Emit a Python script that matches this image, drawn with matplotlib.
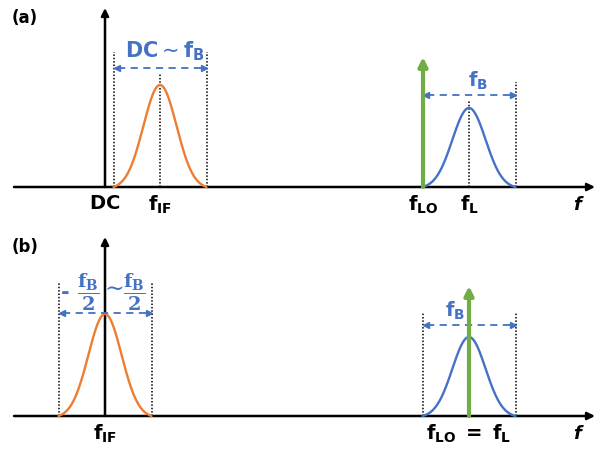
import numpy as np
import matplotlib.pyplot as plt

# frequencies (arbitrary units, DC = 0) and amplitudes
f_if_a = 55
f_if_b = 0
f_lo_a = 318
f_lo_b = 364
f_l = 364
bw = 93
amp_if = 102
amp_l = 79
amp_lo = 130

orange = '#ED7D31'
blue = '#4472C4'
green = '#70AD47'

fig = plt.figure(figsize=(6.05, 4.5), dpi=100)


def peak(ax, fc, amp, color):
    x = np.linspace(fc - bw / 2, fc + bw / 2, 200)
    s = bw / 5.6
    y = amp * (np.exp(-(x - fc) ** 2 / (2 * s ** 2)) - np.exp(-(bw / 2) ** 2 / (2 * s ** 2)))
    y = y / y.max() * amp
    ax.plot(x, y, color=color, lw=1.7, solid_capstyle='round', zorder=3)


def axes_lines(ax):
    ax.annotate('', xy=(490, 0), xytext=(-91, 0),
                arrowprops=dict(arrowstyle='-|>', lw=1.8, color='black',
                                mutation_scale=11, shrinkA=0, shrinkB=0))
    ax.annotate('', xy=(0, 179), xytext=(0, 0),
                arrowprops=dict(arrowstyle='-|>', lw=1.8, color='black',
                                mutation_scale=11, shrinkA=0, shrinkB=0))
    ax.text(472, -9, 'f', fontsize=13, fontweight='bold', fontstyle='italic',
            ha='center', va='top')


def dotted(ax, x, top):
    ax.plot([x, x], [0, top], color='black', ls=(0, (1, 1.2)), lw=1.1, zorder=2)


def span(ax, x0, x1, y):
    ax.plot([x0 + 4, x1 - 4], [y, y], color=blue, ls=(0, (4, 3)), lw=1.3, zorder=4)
    ax.plot([x0 + 3], [y], marker='<', color=blue, ms=4, zorder=4)
    ax.plot([x1 - 3], [y], marker='>', color=blue, ms=4, zorder=4)


def lo_arrow(ax, x):
    ax.annotate('', xy=(x, amp_lo), xytext=(x, 0),
                arrowprops=dict(arrowstyle='-|>', lw=3, color=green,
                                mutation_scale=13, shrinkA=0, shrinkB=0), zorder=5)


lab = dict(fontsize=14, ha='center', va='top', math_fontfamily='dejavusans')

# (a)
ax = fig.add_axes([0, 0.5, 1, 0.5])
ax.set_xlim(-105, 500)
ax.set_ylim(-38, 187)
ax.axis('off')
axes_lines(ax)
dotted(ax, f_if_a - bw / 2, 135)
dotted(ax, f_if_a + bw / 2, 135)
dotted(ax, f_if_a, 114)
peak(ax, f_if_a, amp_if, orange)
span(ax, f_if_a - bw / 2, f_if_a + bw / 2, 119)
ax.text(f_if_a + 5, 124, r'$\mathbf{DC}\sim\mathbf{f_B}$', color=blue,
        fontsize=15, ha='center', va='bottom', math_fontfamily='dejavusans')
dotted(ax, f_lo_a + bw, 105)
dotted(ax, f_l, 87)
peak(ax, f_l, amp_l, blue)
lo_arrow(ax, f_lo_a)
span(ax, f_lo_a, f_lo_a + bw, 92)
ax.text(373, 95, r'$\mathbf{f_B}$', color=blue, fontsize=14, ha='center',
        va='bottom', math_fontfamily='dejavusans')
ax.text(0, -7, r'$\mathbf{DC}$', **lab)
ax.text(f_if_a, -7, r'$\mathbf{f_{IF}}$', **lab)
ax.text(f_lo_a, -7, r'$\mathbf{f_{LO}}$', **lab)
ax.text(f_l, -7, r'$\mathbf{f_L}$', **lab)
ax.text(-80, 169, '(a)', fontsize=12, fontweight='bold', ha='center', va='center')

# (b)
ax = fig.add_axes([0, 0, 1, 0.5])
ax.set_xlim(-105, 500)
ax.set_ylim(-34, 191)
ax.axis('off')
axes_lines(ax)
dotted(ax, f_if_b - bw / 2, 134)
dotted(ax, f_if_b + bw / 2, 134)
peak(ax, f_if_b, amp_if, orange)
span(ax, f_if_b - bw / 2, f_if_b + bw / 2, 103)
frac = r'$\dfrac{\mathbf{f_B}}{\mathbf{2}}$'
fkw = dict(color=blue, fontsize=14, ha='center', va='center', math_fontfamily='dejavuserif')
ax.text(-40, 124, '-', color=blue, fontsize=15, fontweight='bold',
        ha='center', va='center', family='DejaVu Serif')
ax.text(-17, 124, frac, **fkw)
ax.text(7, 128, r'$\sim$', color=blue, fontsize=17, ha='center', va='center',
        math_fontfamily='dejavuserif')
ax.text(29, 124, frac, **fkw)
dotted(ax, f_lo_b - bw / 2, 104)
dotted(ax, f_lo_b + bw / 2, 104)
peak(ax, f_l, amp_l, blue)
lo_arrow(ax, f_lo_b)
span(ax, f_lo_b - bw / 2, f_lo_b + bw / 2, 91)
ax.text(350, 94, r'$\mathbf{f_B}$', color=blue, fontsize=14, ha='center',
        va='bottom', math_fontfamily='dejavusans')
ax.text(f_if_b, -7, r'$\mathbf{f_{IF}}$', **lab)
ax.text(f_l, -7, r'$\mathbf{f_{LO}}\ \mathbf{=}\ \mathbf{f_L}$', **lab)
ax.text(-80, 169, '(b)', fontsize=12, fontweight='bold', ha='center', va='center')

fig.savefig('out.png', dpi=100)
